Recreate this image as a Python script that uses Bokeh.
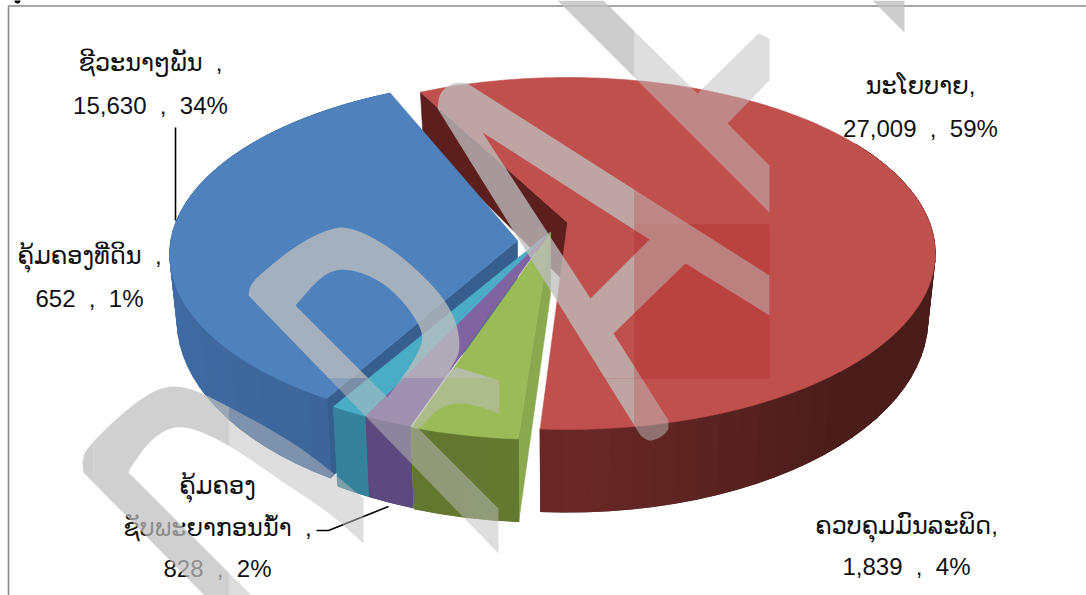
import math
from bokeh.plotting import figure
from bokeh.models import ColumnDataSource, Range1d
from bokeh.core.properties import value
from bokeh.embed import file_html
from bokeh.resources import INLINE

# ---- data ----
VALUES = [27009, 1839, 828, 652, 15630]
NAMES = ["ນະໂຍບາຍ", "ຄວບຄຸມມົນລະພິດ", "ຄຸ້ມຄອງຊັບພະຍາກອນນ້ຳ", "ຄຸ້ມຄອງທີ່ດິນ", "ຊີວະນາໆພັນ"]
TOP_COLORS = ["#c0504d", "#9bbb59", "#8064a2", "#4bacc6", "#4f81bd"]
LABEL_LINES = [
    ["ນະໂຍບາຍ,", "27,009\u00a0\u00a0,\u00a0\u00a059%"],
    ["ຄວບຄຸມມົນລະພິດ,", "1,839\u00a0\u00a0,\u00a0\u00a04%"],
    ["ຄຸ້ມຄອງ", "ຊັບພະຍາກອນນ້ຳ\u00a0\u00a0,", "828\u00a0\u00a0,\u00a0\u00a02%"],
    ["ຄຸ້ມຄອງທີ່ດິນ\u00a0\u00a0,", "652\u00a0\u00a0,\u00a0\u00a01%"],
    ["ຊີວະນາໆພັນ\u00a0\u00a0,", "15,630\u00a0\u00a0,\u00a0\u00a034%"],
]

# ---- layout of the chart (pixel space of the page) ----
W, H = 1086, 595
RX, RY, K = 362.0, 170.5, 0.176
START = -28.0
DEPTH, BOT_SX, BOT_SY = 62.0, 0.98, 1.10
CENTERS = [(567, 222), (545, 232), (544, 231), (544, 231), (537, 223)]
APEXES = [(567, 222), (550, 232), (549, 232), (549, 232), (517, 240)]
SIDE_DARK = ["#4a1d1b", "#6b8738", "#5d4a80", "#37869c", "#4270aa"]
SIDE_FRONT = ["#6a2826", "#62762f", "#5c4a7e", "#36829a", "#3c6498"]
WALL = ["#5c1f1e", "#8aa94e", None, None, "#365f90"]
FONT = value("Liberation Sans, DejaVu Sans")
FS = "24px"


def proj(theta, c, bottom=False):
    t = math.radians(theta)
    u, v = math.sin(t), -math.cos(t)
    d = 1 - K * v
    sx, sy, dy = (BOT_SX, BOT_SY, DEPTH) if bottom else (1, 1, 0)
    return c[0] + sx * RX * u / d, c[1] + dy + sy * RY * v / d


def mix(a, b, f):
    ca = [int(a[i:i + 2], 16) for i in (1, 3, 5)]
    cb = [int(b[i:i + 2], 16) for i in (1, 3, 5)]
    return "#%02x%02x%02x" % tuple(round(x + (y - x) * f) for x, y in zip(ca, cb))


p = figure(width=W, height=H, output_backend="svg", toolbar_location=None,
           x_range=Range1d(0, W), y_range=Range1d(H, 0), min_border=0,
           background_fill_color="white", border_fill_color="white",
           outline_line_color=None)
p.axis.visible = False
p.grid.visible = False

# frame
p.line([8, 8, W], [H, 5.5, 5.5], line_color="#8a8a8a", line_width=1.6)
p.scatter([17], [0], marker="circle", size=6, fill_color="black", line_color=None)

# angular extent of each slice
total = sum(VALUES)
spans = []
a = START
for val in VALUES:
    b = a + 360.0 * val / total
    spans.append((a, b))
    a = b


def add_poly(pts, color):
    p.patch([q[0] for q in pts], [q[1] for q in pts], fill_color=color,
            line_color=color, line_width=0.6)


def draw_slice(i, side_from=None):
    a0, a1 = spans[i]
    c, ap = CENTERS[i], APEXES[i]
    ap_low = (ap[0], ap[1] + DEPTH)
    if WALL[i]:
        corner = proj(a0, c)
        corner_low = proj(a0, c, True)
        add_poly([corner, ap, ap_low, corner_low], WALL[i])
    s0 = a0 if side_from is None else side_from
    n = max(2, int((a1 - s0) / 3))
    ring = [proj(s0 + (a1 - s0) * j / n, c) for j in range(n + 1)]
    ring_low = [proj(s0 + (a1 - s0) * j / n, c, True) for j in range(n + 1)]
    add_poly(ring + ring_low[::-1], SIDE_DARK[i])
    xs, ys, cols = [], [], []
    for j in range(n):
        q = [ring[j], ring[j + 1], ring_low[j + 1], ring_low[j]]
        xs.append([r[0] for r in q])
        ys.append([r[1] for r in q])
        tm = s0 + (a1 - s0) * (j + .5) / n
        f = max(0, 1 - abs(tm - 180) / 40) if i == 0 else max(0, 1 - abs(tm - 200) / 90)
        cols.append(mix(SIDE_DARK[i], SIDE_FRONT[i], f))
    src = ColumnDataSource(dict(x=xs, y=ys, c=cols))
    p.patches("x", "y", source=src, fill_color="c", line_color="c", line_width=1.0)
    n = max(4, int((a1 - a0) / 1.5))
    arc = [proj(a0 + (a1 - a0) * j / n, c) for j in range(n + 1)]
    add_poly([ap] + arc, TOP_COLORS[i])


draw_slice(0, side_from=60)
# slightly deeper tint from the watermark tile
add_poly([(634, 224), (769, 224), (769, 378), (634, 378)], "#ba4341")
draw_slice(4, side_from=spans[4][0])
for i in (3, 2, 1):
    draw_slice(i)

# labels
POS = [
    (920, [85, 128]),
    (906, [525, 566]),
    (217, [485, 527, 568]),
    (89, [255, 298]),
    (150, [62, 105]),
]
for (tx, tys), lines in zip(POS, LABEL_LINES):
    for ty, s in zip(tys, lines):
        p.text([tx], [ty], text=[s], text_font=FONT, text_font_size=FS, text_align="center",
               text_baseline="middle", text_color="#111111")

# leader lines
p.line([175, 175], [127, 220], line_color="black", line_width=1.6)
p.line([316, 328, 388], [530, 530, 506], line_color="black", line_width=1.6)


# watermark
def smooth(pts, rounds=3):
    for _ in range(rounds):
        out = [pts[0]]
        for P, Q in zip(pts, pts[1:]):
            out.append((P[0] * .75 + Q[0] * .25, P[1] * .75 + Q[1] * .25))
            out.append((P[0] * .25 + Q[0] * .75, P[1] * .25 + Q[1] * .75))
        out.append(pts[-1])
        pts = out
    return pts


MARK = [
    smooth([(82, 462), (85, 448), (130, 405), (163, 385), (190, 387), (230, 407), (290, 440), (330, 470), (363, 498)])
    + smooth([(363, 543), (330, 513), (280, 480), (230, 445), (183, 423), (153, 435), (130, 467), (128, 472)])
    + [(251, 595), (204, 595), (83, 472)],
    [(498, 553)]
    + smooth([(248, 295), (250, 283), (270, 265), (293, 247), (323, 230), (350, 225), (400, 253), (450, 303), (462, 347), (449, 370)])
    + [(457, 367), (499, 380), (499, 413)]
    + smooth([(499, 413), (467, 402), (440, 405), (420, 427)])
    + [(417, 427)]
    + smooth([(387, 397), (423, 347), (420, 323), (387, 283), (347, 267), (323, 273), (295, 305)])
    + [(417, 427), (498, 508)],
    smooth([(437, 108), (439, 92), (452, 82), (467, 83)])
    + [(769, 275), (769, 315), (685, 263), (649, 239), (482, 132), (590, 298), (649, 239), (685, 263), (613, 333), (668, 420)]
    + smooth([(668, 420), (668, 432), (650, 442), (640, 435)]),
    [(557, 0), (603, 0), (697, 93), (758, 33), (769, 38), (769, 80), (727, 123), (769, 165), (769, 212)],
    [(872, 0), (904, 32), (904, 0)],
]
# translucent tile columns of the watermark: (x from, x to, opacity)
TILES_UPPER = [(-100, 93, .77), (93, 229, .72), (229, 634, .77), (634, 769, .5), (769, 1100, .77)]
TILES_LOWER = [(-100, 93, .77), (93, 229, .72), (229, 499, .5), (499, 634, .77), (634, 769, .5), (769, 1100, .77)]


def clip(poly, axis, lim, keep_low):
    out = []
    for i in range(len(poly)):
        P, Q = poly[i], poly[(i + 1) % len(poly)]
        pin = P[axis] <= lim if keep_low else P[axis] >= lim
        qin = Q[axis] <= lim if keep_low else Q[axis] >= lim
        if pin:
            out.append(P)
        if pin != qin:
            t = (lim - P[axis]) / (Q[axis] - P[axis])
            out.append((P[0] + (Q[0] - P[0]) * t, P[1] + (Q[1] - P[1]) * t))
    return out


for poly in MARK:
    for (y0, y1), tiles in (((-100, 378), TILES_UPPER), ((378, 900), TILES_LOWER)):
        band = clip(clip(poly, 1, y0, False), 1, y1, True)
        if len(band) < 3:
            continue
        for x0, x1, alpha in tiles:
            cell = clip(clip(band, 0, x0, False), 0, x1, True)
            if len(cell) < 3:
                continue
            p.patch([q[0] for q in cell], [q[1] for q in cell], fill_color="#bebebe",
                    fill_alpha=alpha, line_color=None)

open("out.html", "w").write(file_html(p, INLINE))
